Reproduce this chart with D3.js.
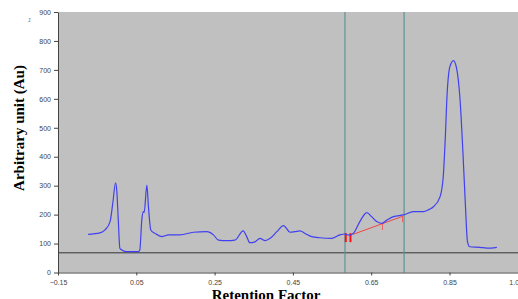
<!DOCTYPE html>
<html>
<head>
<meta charset="utf-8">
<script src="https://cdn.jsdelivr.net/npm/d3@7"></script>
<style>
  html, body { margin: 0; padding: 0; background: #fff; overflow: hidden; }
  .tick text { font-family: 'Liberation Sans', Arial, sans-serif; font-size: 7px; fill: #444; }
  .tick line, .domain { stroke: #444; }
</style>
</head>
<body>
<div class="graph-rf"><svg></svg></div>
<script>
// Densitometric scan
const rfValues = [-0.073, -0.043, -0.030, -0.017, -0.010, -0.003, 0.000, 0.004, 0.008, 0.013, 0.026, 0.055,
  0.059, 0.064, 0.068, 0.070, 0.077, 0.081, 0.087, 0.098, 0.115, 0.132, 0.162, 0.196, 0.230, 0.247,
  0.260, 0.281, 0.302, 0.323, 0.332, 0.340, 0.353, 0.366, 0.379, 0.392, 0.409, 0.426, 0.443, 0.455,
  0.468, 0.481, 0.498, 0.519, 0.549, 0.570, 0.583, 0.592, 0.604, 0.621, 0.639, 0.651, 0.664, 0.677,
  0.690, 0.707, 0.732, 0.758, 0.783, 0.798, 0.809, 0.826, 0.834, 0.839, 0.844, 0.851, 0.860, 0.868,
  0.877, 0.884, 0.890, 0.896, 0.902, 0.928, 0.945, 0.971]
const intensity = [132, 137, 147, 176, 240, 310, 285, 181, 84, 78, 72, 72,
  78, 181, 210, 207, 302, 227, 147, 135, 124, 130, 130, 139, 141, 130,
  112, 110, 112, 144, 124, 103, 106, 118, 110, 118, 141, 162, 139, 141,
  144, 135, 124, 120, 118, 130, 133, 129, 135, 176, 207, 193, 176, 170,
  181, 193, 199, 210, 210, 218, 227, 262, 331, 458, 619, 711, 732, 706,
  596, 423, 251, 106, 89, 87, 84, 87]

const baselineLevel = 68
const windowMarks = [0.583, 0.734]
const integrationLine = [[0.604, 132], [0.732, 195]]
const peakMarks = [[0.585, 136, 105], [0.597, 136, 105], [0.679, 168, 147], [0.730, 195, 174]]

const xTicks = [-0.15, 0.05, 0.25, 0.45, 0.65, 0.85, 1.05]
const yTicks = [0, 100, 200, 300, 400, 500, 600, 700, 800, 900]

const margin = { top: 12, right: 0, bottom: 26.5, left: 58 }
const width = 518 - margin.left - margin.right
const height = 299 - margin.top - margin.bottom

/**
 * Sets the size of the canvas and returns the g element of the plot.
 *
 * @returns {*} The d3 Selection for the plot g element
 */
function generateG () {
  const svg = d3.select('.graph-rf').select('svg')
    .attr('width', 518)
    .attr('height', 299)
    .style('display', 'block')
  return svg.append('g')
    .attr('transform', 'translate(' + margin.left + ',' + margin.top + ')')
}

const g = generateG()

const xScale = d3.scaleLinear().domain([-0.15, 1.05]).range([0, 469.8])
const yScale = d3.scaleLinear().domain([0, 900]).range([height, 0])

// grey plot background
g.append('rect')
  .attr('x', 0)
  .attr('y', 0)
  .attr('width', width)
  .attr('height', height)
  .attr('fill', '#c0c0c0')

// horizontal base line
g.append('line')
  .attr('x1', 0)
  .attr('x2', width)
  .attr('y1', yScale(baselineLevel))
  .attr('y2', yScale(baselineLevel))
  .attr('stroke', '#333')
  .attr('stroke-width', 1)

// window lines
g.selectAll('.window')
  .data(windowMarks)
  .enter()
  .append('line')
  .attr('class', 'window')
  .attr('x1', d => xScale(d))
  .attr('x2', d => xScale(d))
  .attr('y1', 0)
  .attr('y2', height)
  .attr('stroke', '#5b9593')
  .attr('stroke-width', 1.2)

// integration line and peak marks
g.append('line')
  .attr('x1', xScale(integrationLine[0][0]))
  .attr('y1', yScale(integrationLine[0][1]))
  .attr('x2', xScale(integrationLine[1][0]))
  .attr('y2', yScale(integrationLine[1][1]))
  .attr('stroke', '#f04545')
  .attr('stroke-width', 1)

g.selectAll('.peak-mark')
  .data(peakMarks)
  .enter()
  .append('line')
  .attr('class', 'peak-mark')
  .attr('x1', d => xScale(d[0]))
  .attr('x2', d => xScale(d[0]))
  .attr('y1', d => yScale(d[1]))
  .attr('y2', d => yScale(d[2]))
  .attr('stroke', (d, i) => i < 2 ? '#ff1010' : '#f06060')
  .attr('stroke-width', (d, i) => i < 2 ? 2 : 1)

// scan trace
const line = d3.line()
  .x(d => xScale(d[0]))
  .y(d => yScale(d[1]))
  .curve(d3.curveMonotoneX)

g.append('path')
  .datum(rfValues.map((v, i) => [v, intensity[i]]))
  .attr('d', line)
  .attr('fill', 'none')
  .attr('stroke', '#4040f0')
  .attr('stroke-width', 1.2)

// axes
g.append('g')
  .attr('class', 'x axis')
  .attr('transform', 'translate(0, ' + height + ')')
  .call(d3.axisBottom(xScale).tickValues(xTicks).tickSize(3).tickSizeOuter(0).tickFormat(d3.format('.2f')))

g.append('g')
  .attr('class', 'y axis')
  .call(d3.axisLeft(yScale).tickValues(yTicks).tickSize(4).tickSizeOuter(0).tickFormat(d3.format('d')))

g.selectAll('.x.axis .tick text').attr('dy', '0.9em')

// the last tick sits past the window edge, its label peeks in like the original
g.selectAll('.x.axis .tick text')
  .filter(d => d === 1.05)
  .attr('text-anchor', 'start')
  .attr('x', -19)

// labels
const svg = d3.select('.graph-rf').select('svg')
svg.append('text')
  .text('Arbitrary unit (Au)')
  .attr('transform', 'translate(24, 128) rotate(-90)')
  .attr('text-anchor', 'middle')
  .attr('font-family', 'Liberation Serif, Times New Roman, serif')
  .attr('font-weight', 'bold')
  .attr('font-size', 15)
  .attr('fill', '#000')

svg.append('text')
  .text('Retention Factor')
  .attr('x', 266)
  .attr('y', 300)
  .attr('text-anchor', 'middle')
  .attr('font-family', 'Liberation Serif, Times New Roman, serif')
  .attr('font-weight', 'bold')
  .attr('font-size', 15)
  .attr('fill', '#000')

svg.append('text')
  .text('J')
  .attr('x', 28)
  .attr('y', 22)
  .attr('font-family', 'Liberation Sans, Arial, sans-serif')
  .attr('font-size', 5)
  .attr('fill', '#555')
</script>
</body>
</html>
